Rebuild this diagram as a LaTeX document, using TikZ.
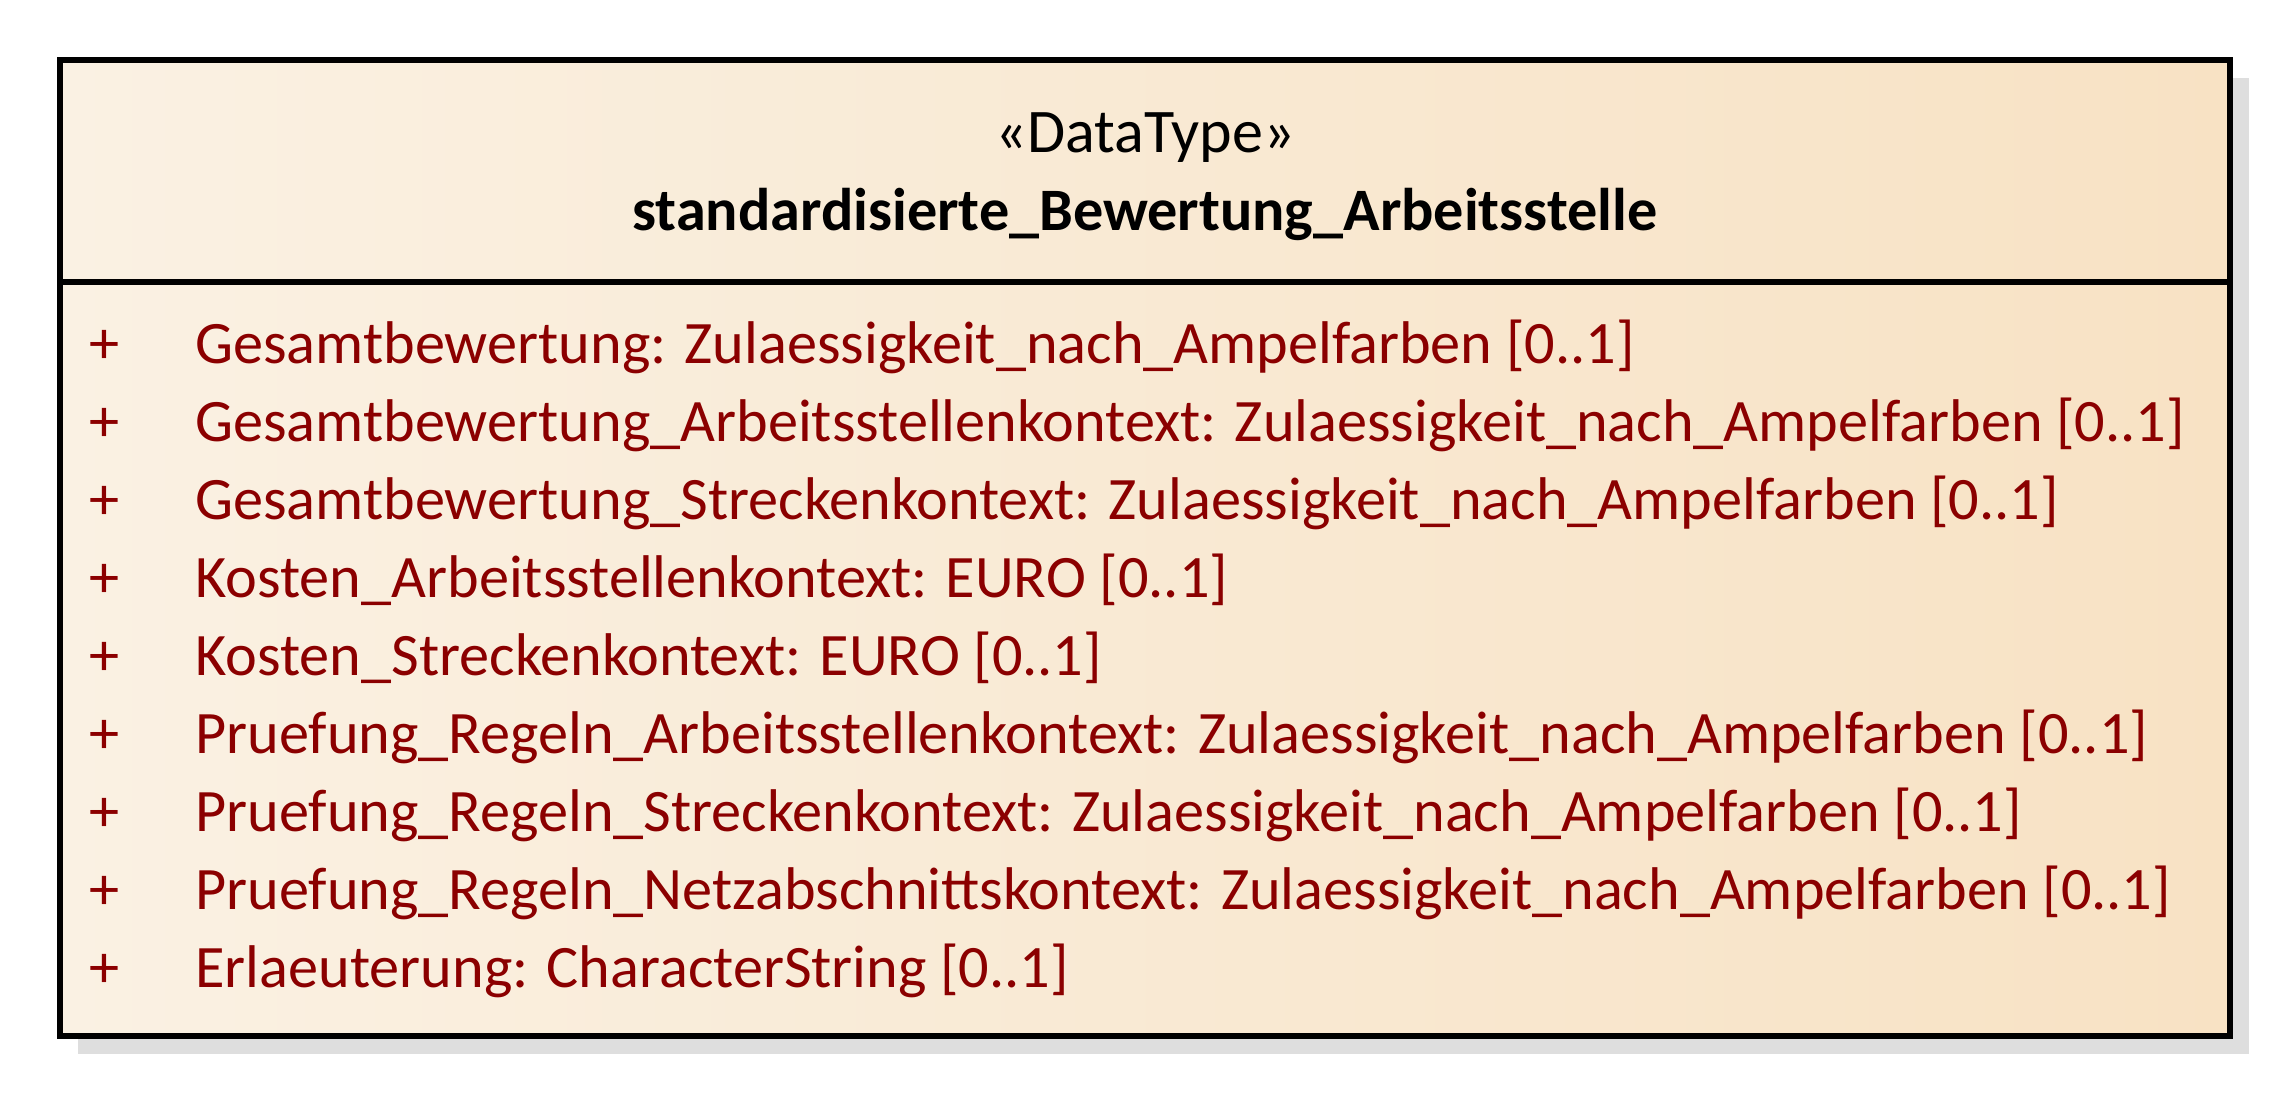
\documentclass[tikz,border=0pt]{standalone}
\usepackage{fontspec}
\setmainfont{Carlito}
\definecolor{boxleft}{RGB}{250,241,227}
\definecolor{boxright}{RGB}{248,226,196}
\definecolor{shadowgray}{RGB}{222,222,222}
\definecolor{attrred}{RGB}{139,0,0}
\tikzset{
  attr/.style={anchor=base west, inner sep=0pt, text=attrred, font=\fontsize{34.3}{41}\selectfont},
  vis/.style={anchor=base, inner sep=0pt, text=attrred, font=\fontsize{34.3}{41}\selectfont},
  head/.style={anchor=base, inner sep=0pt, font=\fontsize{34.3}{41}\selectfont},
}
\begin{document}
\begin{tikzpicture}[x=0.02cm, y=-0.02cm]
        \useasboundingbox (0,0) rectangle (2292,1098);

        % shadow and box
        \fill[shadowgray] (78,78) rectangle (2249,1054);
        \shade[left color=boxleft, right color=boxright] (60,60) rectangle (2230,1036);
        \draw[line width=3.1pt] (60,60) rectangle (2230,1036);
        \draw[line width=3.1pt] (60,282) -- (2230,282);

        % header
        \node[head, font=\fontsize{35.3}{42}\selectfont] (stereo) at (1145,153) {«DataType»};
        \node[head, font=\fontsize{34.3}{41}\selectfont\bfseries] (title) at (1145,231) {standardisierte\_Bewertung\_Arbeitsstelle};

        % attributes
        \foreach \i/\txt in {1/{Gesamtbewertung: Zulaessigkeit\_nach\_Ampelfarben [0..1]},
                             2/{Gesamtbewertung\_Arbeitsstellenkontext: Zulaessigkeit\_nach\_Ampelfarben [0..1]},
                             3/{Gesamtbewertung\_Streckenkontext: Zulaessigkeit\_nach\_Ampelfarben [0..1]},
                             4/{Kosten\_Arbeitsstellenkontext: EURO [0..1]},
                             5/{Kosten\_Streckenkontext: EURO [0..1]},
                             6/{Pruefung\_Regeln\_Arbeitsstellenkontext: Zulaessigkeit\_nach\_Ampelfarben [0..1]},
                             7/{Pruefung\_Regeln\_Streckenkontext: Zulaessigkeit\_nach\_Ampelfarben [0..1]},
                             8/{Pruefung\_Regeln\_Netzabschnittskontext: Zulaessigkeit\_nach\_Ampelfarben [0..1]},
                             9/{Erlaeuterung: CharacterString [0..1]}}
        {
          \node[vis] (plus\i) at (105,{363+78*(\i-1)}) {+};
          \node[attr] (attr\i) at (195,{363+78*(\i-1)}) {\txt};
        }

\end{tikzpicture}
\end{document}
